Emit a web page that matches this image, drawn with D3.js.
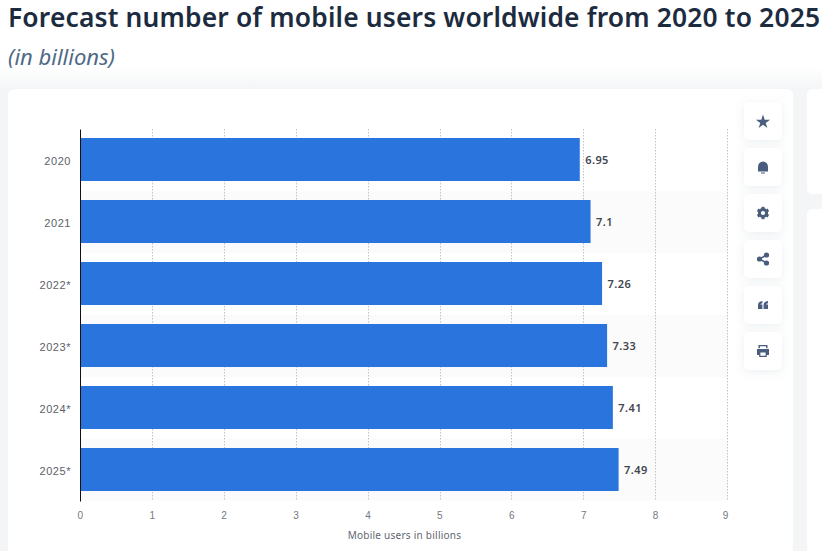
<!DOCTYPE html>
<html>
<head>
<meta charset="utf-8">
<script src="https://cdn.jsdelivr.net/npm/d3@7"></script>
<style>
  html, body { margin: 0; padding: 0; background: #fff; overflow: hidden; }
  svg { display: block; font-family: "Noto Sans", sans-serif; }
  .ytick text { font-size: 11px; fill: #5d6167; letter-spacing: .55px; }
  .xtick text { font-size: 10px; fill: #74787e; letter-spacing: .4px; }
  .value { font-size: 11px; font-weight: 600; fill: #414650; letter-spacing: .4px; }
</style>
</head>
<body>
<svg id="chart" width="822" height="551"></svg>
<script>
"use strict";

var years = ["2020", "2021", "2022*", "2023*", "2024*", "2025*"];
var users = [6.95, 7.1, 7.26, 7.33, 7.41, 7.49];
var valueLabels = ["6.95", "7.1", "7.26", "7.33", "7.41", "7.49"];
var xTicks = [0, 1, 2, 3, 4, 5, 6, 7, 8, 9];

var svg = d3.select("#chart");

var defs = svg.append("defs");
var blur = defs.append("filter").attr("id", "soft")
  .attr("x", "-30%").attr("y", "-30%").attr("width", "160%").attr("height", "160%");
blur.append("feDropShadow").attr("dx", 0).attr("dy", 2).attr("stdDeviation", 5)
  .attr("flood-color", "#8a97a8").attr("flood-opacity", 0.16);
var fade = defs.append("linearGradient").attr("id", "fade").attr("x1", 0).attr("x2", 0).attr("y1", 0).attr("y2", 1);
fade.append("stop").attr("offset", 0).attr("stop-color", "#ffffff");
fade.append("stop").attr("offset", 1).attr("stop-color", "#f3f5f7");

// page background below the heading
svg.append("rect").attr("y", 89).attr("width", 822).attr("height", 462).attr("fill", "#f3f5f7");
svg.append("rect").attr("y", 68).attr("width", 822).attr("height", 21).attr("fill", "url(#fade)");

// cards
svg.append("rect").attr("x", 8).attr("y", 89).attr("width", 785).attr("height", 480).attr("rx", 6).attr("fill", "#fff");
svg.append("rect").attr("x", 807).attr("y", 89).attr("width", 30).attr("height", 105).attr("rx", 5).attr("fill", "#fff");
svg.append("rect").attr("x", 807).attr("y", 209).attr("width", 30).attr("height", 360).attr("rx", 5).attr("fill", "#fff");

// heading
svg.append("text").attr("x", 8).attr("y", 27)
  .attr("font-size", 26.4).attr("font-weight", 600).attr("fill", "#1d2b3f")
  .attr("textLength", 812).attr("lengthAdjust", "spacing")
  .text("Forecast number of mobile users worldwide from 2020 to 2025");
svg.append("text").attr("x", 8).attr("y", 65)
  .attr("font-size", 22).attr("font-style", "italic").attr("fill", "#4f6a86")
  .text("(in billions)");

var x = d3.scaleLinear().domain([0, 9]).range([80, 727.2]);
var yBand = d3.scaleBand().domain(years).range([129, 501]);
var y = d3.scaleBand().domain(years).range([128.5, 500.5]).paddingInner(0.306).paddingOuter(0.153);

// alternate row shading
svg.selectAll(".row").data(years.filter(function (d, i) { return i % 2 === 1; }))
  .enter().append("rect")
  .attr("class", "row")
  .attr("x", x(0))
  .attr("y", function (d) { return yBand(d); })
  .attr("width", 648)
  .attr("height", yBand.bandwidth())
  .attr("fill", "#fbfbfb");

// dotted grid
function gridX(d) {
  return Math.round(x(d)) + 0.5;
}
svg.selectAll(".grid").data(xTicks.slice(1))
  .enter().append("line")
  .attr("class", "grid")
  .attr("x1", gridX)
  .attr("x2", gridX)
  .attr("y1", 129).attr("y2", 501)
  .attr("stroke", "#bfc3c8")
  .attr("stroke-dasharray", "1.5,1.5");

// bars
svg.selectAll(".bar").data(users)
  .enter().append("rect")
  .attr("class", "bar")
  .attr("x", x(0))
  .attr("y", function (d, i) { return y(years[i]); })
  .attr("width", function (d) { return x(d) - x(0); })
  .attr("height", y.bandwidth())
  .attr("fill", "#2975dd");

// value labels
svg.selectAll(".value").data(users)
  .enter().append("text")
  .attr("class", "value")
  .attr("x", function (d) { return x(d) + 5.5; })
  .attr("y", function (d, i) { return y(years[i]) + y.bandwidth() / 2 + 4.5; })
  .text(function (d, i) { return valueLabels[i]; });

// y axis
var yAxis = svg.append("g").attr("class", "ytick")
  .attr("transform", "translate(" + x(0) + ",0)")
  .call(d3.axisLeft(yBand).tickSize(0).tickPadding(9));
yAxis.select(".domain").attr("stroke", "#111").attr("stroke-width", 1);
yAxis.selectAll("text").attr("dy", "0.42em");

// x axis
var xAxis = svg.append("g").attr("class", "xtick")
  .attr("transform", "translate(0,501)")
  .call(d3.axisBottom(x).tickValues(xTicks).tickFormat(d3.format("d")).tickSize(0).tickPadding(11));
xAxis.select(".domain").remove();
xAxis.selectAll("text").attr("dx", function (d) { return d === 9 ? -2 : 0; });

svg.append("text").attr("x", 404.5).attr("y", 539)
  .attr("text-anchor", "middle").attr("font-size", 10).attr("fill", "#5f6670")
  .attr("letter-spacing", 0.25)
  .text("Mobile users in billions");

// side buttons
var buttons = ["star", "bell", "gear", "share", "quote", "print"];
var btn = svg.selectAll(".btn").data(buttons).enter().append("g")
  .attr("class", "btn")
  .attr("transform", function (d, i) { return "translate(763," + (121 + i * 46) + ")"; });
btn.append("rect").attr("x", -19).attr("y", -19).attr("width", 38).attr("height", 38)
  .attr("rx", 5).attr("fill", "#fff").attr("filter", "url(#soft)");

var iconColor = "#4a5d7c";
var icons = {
  star: function (g) {
    g.append("path").attr("d", d3.symbol(d3.symbolStar, 62)()).attr("fill", iconColor).attr("transform", "translate(0,1)");
  },
  bell: function (g) {
    g.append("path").attr("d", "M-5,4.5V0a5,5.5 0 0 1 10,0V4.5Z").attr("fill", iconColor);
    g.append("rect").attr("x", -2).attr("y", 5.5).attr("width", 4).attr("height", 1).attr("fill", iconColor);
  },
  gear: function (g) {
    g.append("circle").attr("r", 3.6).attr("fill", "none").attr("stroke", iconColor).attr("stroke-width", 3);
    d3.range(0, 360, 60).forEach(function (a) {
      g.append("rect").attr("x", -1.5).attr("y", -6.2).attr("width", 3).attr("height", 2.5)
        .attr("fill", iconColor).attr("transform", "rotate(" + a + ")");
    });
  },
  share: function (g) {
    g.append("path").attr("d", "M3.5,-4L-3.5,0L3.5,4").attr("fill", "none").attr("stroke", iconColor).attr("stroke-width", 1.5);
    [[3.5, -4], [-3.5, 0], [3.5, 4]].forEach(function (c) {
      g.append("circle").attr("cx", c[0]).attr("cy", c[1]).attr("r", 2.6).attr("fill", iconColor);
    });
  },
  quote: function (g) {
    [-5, 0.6].forEach(function (dx) {
      g.append("path").attr("d", "M" + dx + ",4V0Q" + dx + ",-3.6 " + (dx + 4.4) + ",-4V-1.8Q" + (dx + 2.6) + ",-1.6 " + (dx + 2.4) + ",-0.4H" + (dx + 4.4) + "V4Z").attr("fill", iconColor);
    });
  },
  print: function (g) {
    g.append("path").attr("fill", iconColor).attr("fill-rule", "evenodd")
      .attr("d", "M-6,-2H6V4H3.8V6H-3.8V4H-6ZM-2.6,1.5V4.8H2.6V1.5Z");
    g.append("path").attr("d", "M-3.8,-2.8V-5.4H3.8V-2.8").attr("fill", "none").attr("stroke", iconColor).attr("stroke-width", 1.4);
  }
};
btn.each(function (d) { icons[d](d3.select(this)); });
</script>
</body>
</html>
